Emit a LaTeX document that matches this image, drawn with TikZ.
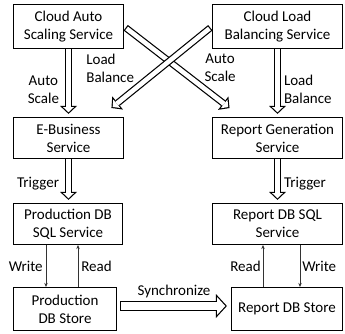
\documentclass[tikz,border=0pt]{standalone}
\usepackage{fontspec}
\setmainfont{Carlito}
\usetikzlibrary{arrows.meta,positioning}

\tikzset{
  box/.style={draw, line width=1.2pt, align=center, inner sep=2pt, font=\fontsize{15}{18}\selectfont},
  lbl/.style={font=\fontsize{15}{18}\selectfont, inner sep=2pt},
  fat/.style={line width=7pt, -{Triangle[width=17pt,length=8pt,line width=0pt]}, shorten >=3pt,
    postaction={draw=white, line width=4.6pt, -{Triangle[width=10.9pt,length=5.15pt,line width=0pt]},
      shorten >=4.65pt, shorten <=#1}},
  fat/.default=0pt,
  sync/.style={line width=10pt, -{Triangle[width=24pt,length=11pt,line width=0pt]}, shorten >=4pt, shorten <=3pt,
    postaction={draw=white, line width=7.6pt, -{Triangle[width=17.8pt,length=8.17pt,line width=0pt]},
      shorten >=5.63pt, shorten <=4.2pt}},
  thinarr/.style={draw=black!80, line width=0.6pt, -{Stealth[length=4pt,width=3.5pt]}}
}

\begin{document}
\begin{tikzpicture}[x=1pt, y=1pt]
    \useasboundingbox (0,0) rectangle (345,-334);

    % services
    \node[box, minimum width=110pt, minimum height=44pt] (cas) at (68.5,-26.5) {Cloud Auto\\Scaling Service};
    \node[box, minimum width=130pt, minimum height=44pt] (clb) at (277.5,-26.5) {Cloud Load\\Balancing Service};
    \node[box, minimum width=110pt, minimum height=41pt, below=67.8pt of cas] (ebs) {E-Business\\Service};
    \node[box, minimum width=130pt, minimum height=41pt, below=67.8pt of clb] (rgs) {Report Generation\\Service};
    \node[box, minimum width=109pt, minimum height=41pt, below=43.8pt of ebs.south west, anchor=north west] (psql) {Production DB\\SQL Service};
    \node[box, minimum width=130pt, minimum height=41pt, below=43.8pt of rgs] (rsql) {Report DB SQL\\Service};

    % stores
    \node[box, minimum width=103pt, minimum height=43pt, below=41.8pt of psql.south west, anchor=north west] (pst) {Production\\DB Store};
    \node[box, minimum width=111pt, minimum height=43pt, below=41.8pt of rsql.south east, anchor=north east] (rst) {Report DB Store};

    \draw[fat] (cas.south) -- (cas.south |- ebs.north) node[lbl, pos=0.6, left=4pt, align=center] {Auto\\Scale};
    \draw[fat] (clb.south) -- (clb.south |- rgs.north) node[lbl, pos=0.6, right=1pt, align=left] {Load\\Balance};
    \draw[fat=3.2pt, shorten <=2pt] (cas.east) -- ([xshift=20pt,yshift=7pt]rgs.north west)
        node[lbl, pos=0.5, right=21pt, align=center] {Auto\\Scale};
    \draw[fat=3.2pt, shorten <=2pt] (clb.west) -- ([xshift=-15pt,yshift=7pt]ebs.north east)
        node[lbl, pos=0.5, left=21pt, align=left] {Load\\Balance};

    \draw[fat] (ebs.south) -- (ebs.south |- psql.north) node[lbl, pos=0.55, left=4pt] {Trigger};
    \draw[fat] (rgs.south) -- (rgs.south |- rsql.north) node[lbl, pos=0.55, right=1pt] {Trigger};

    \draw[thinarr] ([xshift=-22pt]psql.south) -- ([xshift=-22pt]psql.south |- pst.north) node[lbl, midway, left=1pt] {Write};
    \draw[thinarr] ([xshift=10pt]psql.south |- pst.north) -- ([xshift=10pt]psql.south) node[lbl, midway, right=1pt] {Read};
    \draw[thinarr] ([xshift=-14.5pt]rsql.south |- rst.north) -- ([xshift=-14.5pt]rsql.south) node[lbl, midway, left] {Read};
    \draw[thinarr] ([xshift=22.5pt]rsql.south) -- ([xshift=22.5pt]rsql.south |- rst.north) node[lbl, midway, right] {Write};

    \draw[sync] ([yshift=3pt]pst.east) -- ([yshift=3pt]rst.west) node[lbl, midway, above=1pt] {Synchronize};
\end{tikzpicture}
\end{document}
